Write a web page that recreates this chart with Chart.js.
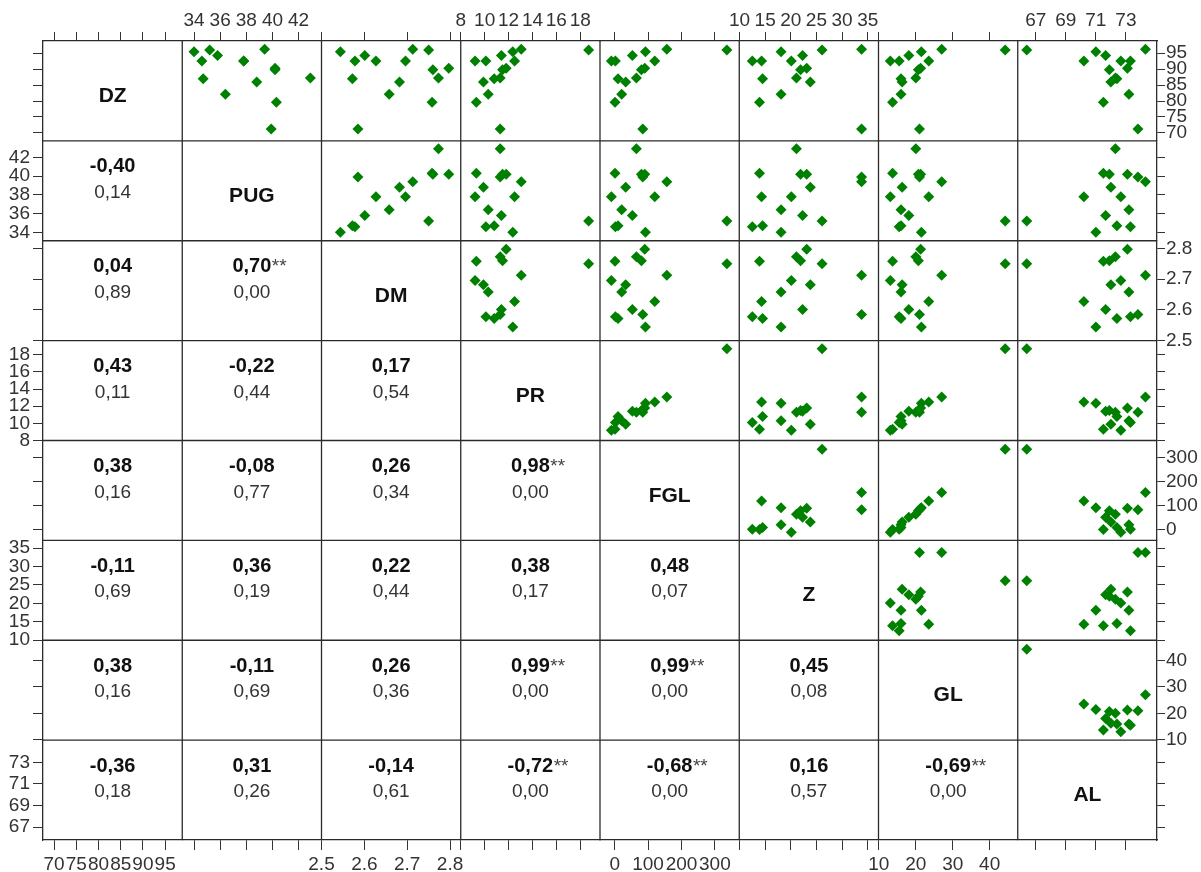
<!DOCTYPE html>
<html>
<head>
<meta charset="utf-8">
<title>Scatterplot matrix</title>
<script src="https://cdn.jsdelivr.net/npm/chart.js@4/dist/chart.umd.min.js"></script>
<style>
  html, body { margin: 0; padding: 0; background: #ffffff; }
  canvas { display: block; }
</style>
</head>
<body>
<canvas id="splom" width="1201" height="872"></canvas>
<script>
// Variable names, in matrix order
const varNames = ['DZ', 'PUG', 'DM', 'PR', 'FGL', 'Z', 'GL', 'AL'];

// Observations (15 samples), one array per variable
const DZ  = [96.25, 96.0, 95.5, 94.3, 92.6, 92.6, 92.6, 90.3, 89.8, 87.2, 87.0, 86.0, 82.1, 79.6, 71.25];
const PUG = [39.4, 35.2, 34.0, 35.8, 37.8, 34.6, 37.8, 40.2, 40.2, 42.9, 34.7, 38.8, 36.4, 40.3, 39.9];
const DM  = [2.713, 2.750, 2.544, 2.601, 2.696, 2.578, 2.627, 2.797, 2.760, 2.773, 2.572, 2.682, 2.658, 2.758, 2.585];
const PR  = [13.06, 18.7, 12.35, 11.4, 9.2, 10.1, 12.5, 11.8, 11.5, 11.3, 10.8, 9.9, 10.3, 9.3, 11.3];
const FGL = [156, 336, 92, 53, -10, 2, 120, 90, 80, 65, 10, 33, 21, 1, 84];
const Z   = [33.8, 26.1, 18.1, 22.3, 20.1, 12.5, 14.3, 23.1, 21.9, 21.1, 14.5, 23.8, 18.1, 13.9, 33.8];
const GL  = [27.0, 44.2, 21.5, 18.1, 13.1, 15.5, 23.5, 21.3, 20.7, 20.0, 16.0, 16.3, 16.0, 13.7, 21.0];
const AL  = [74.3, 66.4, 71.0, 71.65, 72.66, 73.3, 70.2, 73.1, 71.9, 72.3, 72.4, 72.0, 73.2, 71.5, 73.8];
const columns = [DZ, PUG, DM, PR, FGL, Z, GL, AL];

// Axis extents and tick values for each variable
const axisMin = [67.5, 33.1, 2.5, 8.0, -44, 9.95, 9.9, 65.8];
const axisMax = [98.85, 43.75, 2.825, 19.65, 373, 37.1, 47.6, 75.07];
const axisTicks = [
  [70, 75, 80, 85, 90, 95],
  [34, 36, 38, 40, 42],
  [2.5, 2.6, 2.7, 2.8],
  [8, 10, 12, 14, 16, 18],
  [0, 100, 200, 300],
  [10, 15, 20, 25, 30, 35],
  [10, 20, 30, 40],
  [67, 69, 71, 73]
];

// Pearson coefficients (lower triangle, by row) and their p-values
const corrR = [
  [],
  ['-0,40'],
  ['0,04', '0,70**'],
  ['0,43', '-0,22', '0,17'],
  ['0,38', '-0,08', '0,26', '0,98**'],
  ['-0,11', '0,36', '0,22', '0,38', '0,48'],
  ['0,38', '-0,11', '0,26', '0,99**', '0,99**', '0,45'],
  ['-0,36', '0,31', '-0,14', '-0,72**', '-0,68**', '0,16', '-0,69**']
];
const corrP = [
  [],
  ['0,14'],
  ['0,89', '0,00'],
  ['0,11', '0,44', '0,54'],
  ['0,16', '0,77', '0,34', '0,00'],
  ['0,69', '0,19', '0,44', '0,17', '0,07'],
  ['0,16', '0,69', '0,36', '0,00', '0,00', '0,08'],
  ['0,18', '0,26', '0,61', '0,00', '0,00', '0,57', '0,00']
];

const N = varNames.length;
const FRAME = '#2b2b2b';
const FONT = '"Liberation Sans", Arial, Helvetica, sans-serif';
const AXIS_SIZE = { top: 41, bottom: 32, left: 43, right: 44 };
const TICK_LEN  = { top: 9, bottom: 10, left: 10, right: 8 };
const TICK_PAD  = { top: 0, bottom: 3, left: 3, right: 1 };

Chart.defaults.font.family = FONT;

function axisOptions(v, pos, labelled, weight) {
  const horiz = pos === 'top' || pos === 'bottom';
  return {
    type: 'linear',
    axis: horiz ? 'x' : 'y',
    position: pos,
    stack: pos,
    stackWeight: 1,
    weight: weight,
    min: axisMin[v],
    max: axisMax[v],
    afterBuildTicks: s => { s.ticks = axisTicks[v].map(value => ({ value })); },
    afterFit: s => { if (horiz) { s.height = AXIS_SIZE[pos]; } else { s.width = AXIS_SIZE[pos]; } },
    grid: {
      drawOnChartArea: false,
      drawTicks: true,
      tickLength: TICK_LEN[pos],
      tickColor: '#333333',
      tickWidth: 1
    },
    border: { display: true, color: FRAME, width: 1.3 },
    ticks: {
      display: labelled,
      autoSkip: false,
      maxRotation: 0,
      minRotation: 0,
      padding: TICK_PAD[pos],
      color: '#333333',
      font: { size: 19 },
      callback: val => String(val)
    }
  };
}

// One stacked axis per column (top and bottom) and per row (left and right)
const scales = {};
for (let c = 0; c < N; c++) {
  scales['xb' + c] = axisOptions(c, 'bottom', c % 2 === 0, c);
  scales['xt' + c] = axisOptions(c, 'top', c % 2 === 1, N - c);
}
for (let r = 0; r < N; r++) {
  scales['yl' + r] = axisOptions(r, 'left', r % 2 === 1, N - r);
  scales['yr' + r] = axisOptions(r, 'right', r % 2 === 0, r);
}

// Upper triangle: one scatter panel per pair (x = column variable, y = row variable)
const datasets = [];
for (let r = 0; r < N; r++) {
  for (let c = r + 1; c < N; c++) {
    datasets.push({
      label: varNames[r] + ' ~ ' + varNames[c],
      data: columns[c].map((xv, i) => ({ x: xv, y: columns[r][i] })),
      xAxisID: 'xb' + c,
      yAxisID: 'yl' + r,
      pointStyle: 'rectRot',
      pointRadius: 5.5,
      pointHoverRadius: 5.5,
      backgroundColor: '#008000',
      borderColor: '#008000',
      borderWidth: 0,
      showLine: false
    });
  }
}

// Panel frame, diagonal names and correlation text
const panelText = {
  id: 'panelText',
  beforeDatasetsDraw(chart) {
    const ctx = chart.ctx;
    const a = chart.chartArea;
    ctx.save();
    ctx.strokeStyle = FRAME;
    ctx.lineWidth = 1.3;
    ctx.beginPath();
    for (let c = 1; c < N; c++) {
      const x = chart.scales['xb' + c].left;
      ctx.moveTo(x, a.top);
      ctx.lineTo(x, a.bottom);
    }
    for (let r = 1; r < N; r++) {
      const y = chart.scales['yl' + r].top;
      ctx.moveTo(a.left, y);
      ctx.lineTo(a.right, y);
    }
    ctx.stroke();
    ctx.restore();
  },
  afterDatasetsDraw(chart) {
    const ctx = chart.ctx;
    ctx.save();
    ctx.textBaseline = 'alphabetic';
    for (let r = 0; r < N; r++) {
      const ys = chart.scales['yl' + r];
      const top = ys.top;
      for (let c = 0; c <= r; c++) {
        const xs = chart.scales['xb' + c];
        const cx = (xs.left + xs.right) / 2;
        if (r === c) {
          ctx.font = 'bold 21px ' + FONT;
          ctx.fillStyle = '#111111';
          ctx.textAlign = 'center';
          ctx.fillText(varNames[r], cx, top + 61);
          continue;
        }
        const txt = corrR[r][c];
        const starred = txt.endsWith('**');
        const num = starred ? txt.slice(0, -2) : txt;
        ctx.font = 'bold 20px ' + FONT;
        ctx.fillStyle = '#111111';
        ctx.textAlign = 'center';
        ctx.fillText(num, cx, top + 31.5);
        if (starred) {
          const w = ctx.measureText(num).width;
          ctx.font = '19px ' + FONT;
          ctx.fillStyle = '#444444';
          ctx.textAlign = 'left';
          ctx.fillText('**', cx + w / 2 + 0.5, top + 31.5);
        }
        ctx.font = '19px ' + FONT;
        ctx.fillStyle = '#333333';
        ctx.textAlign = 'center';
        ctx.fillText(corrP[r][c], cx, top + 57);
      }
    }
    ctx.restore();
  }
};

new Chart(document.getElementById('splom'), {
  type: 'scatter',
  data: { datasets },
  options: {
    responsive: false,
    devicePixelRatio: 1,
    animation: false,
    events: [],
    layout: { padding: 0 },
    plugins: { legend: { display: false }, tooltip: { enabled: false } },
    scales
  },
  plugins: [panelText]
});
</script>
</body>
</html>
